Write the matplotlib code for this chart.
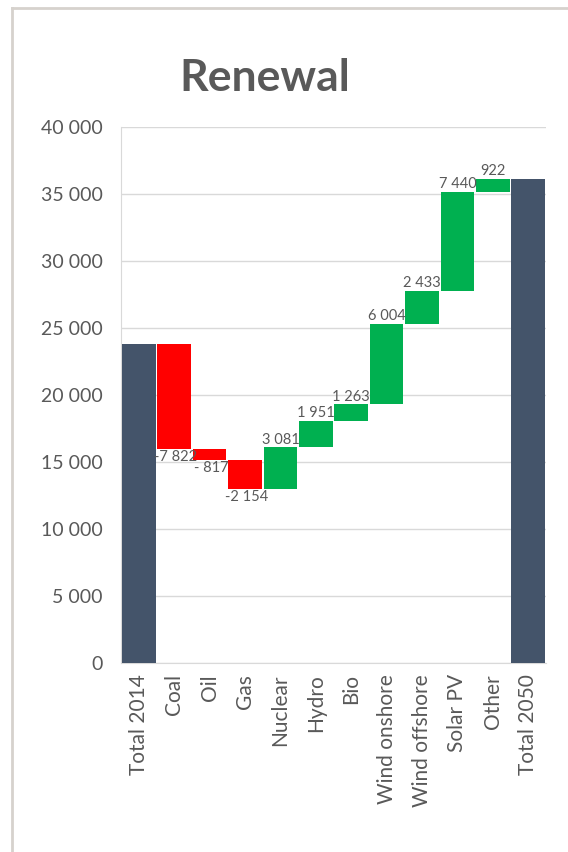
import matplotlib
matplotlib.use("Agg")
import matplotlib.pyplot as plt
from matplotlib.lines import Line2D

categories = ["Total 2014", "Coal", "Oil", "Gas", "Nuclear", "Hydro", "Bio",
              "Wind onshore", "Wind offshore", "Solar PV", "Other", "Total 2050"]
start_total = 23800
changes = [-7822, -817, -2154, 3081, 1951, 1263, 6004, 2433, 7440, 922]
y_ticks = [0, 5000, 10000, 15000, 20000, 25000, 30000, 35000, 40000]

TOTAL_C = "#44546a"
UP_C = "#00b050"
DOWN_C = "#ff0000"
TEXT_C = "#595959"
GRID_C = "#d9d9d9"

plt.rcParams["font.family"] = ["Lato", "DejaVu Sans"]


def fmt_space(v):
    a = abs(int(v))
    s = f"{a:,}".replace(",", " ")
    if a < 1000:
        s = " " + s
    return ("-" + s) if v < 0 else s.strip()


fig = plt.figure(figsize=(5.68, 8.52), dpi=100)
ax = fig.add_axes([121 / 568, 1 - 663 / 852, (546 - 121) / 568, (663 - 127) / 852])

end_total = start_total + sum(changes)
x = list(range(len(categories)))
w = 0.95

# totals
ax.bar(0, start_total, width=w, color=TOTAL_C, zorder=3)
ax.bar(len(categories) - 1, end_total, width=w, color=TOTAL_C, zorder=3)

# floating steps
level = start_total
for i, d in enumerate(changes, start=1):
    bottom = level + min(d, 0)
    ax.bar(i, abs(d), bottom=bottom, width=w,
           color=UP_C if d > 0 else DOWN_C, zorder=3)
    label = fmt_space(d)
    if d > 0:
        ax.text(i, level + d + 60, label, ha="center", va="bottom",
                fontsize=10.5, color=TEXT_C, zorder=4)
    else:
        ax.text(i + 0.05, level + d - 100, label, ha="center", va="top",
                fontsize=10.5, color=TEXT_C, zorder=4)
    level += d

ax.set_xlim(-0.5, len(categories) - 0.5)
ax.set_ylim(0, 40000)
ax.set_yticks(y_ticks)
ax.set_yticklabels([fmt_space(v) for v in y_ticks])
ax.set_xticks(x)
ax.set_xticklabels(categories, rotation=90)
ax.tick_params(axis="both", length=0, colors=TEXT_C)
ax.tick_params(axis="y", labelsize=14, pad=13)
ax.tick_params(axis="x", labelsize=15, pad=8)
ax.yaxis.grid(True, color=GRID_C, linewidth=1.0, zorder=0)
for side in ("top", "right"):
    ax.spines[side].set_visible(False)
ax.spines["left"].set_color(GRID_C)
ax.spines["bottom"].set_color(GRID_C)
ax.set_axisbelow(True)

fig.text(265 / 568, 1 - 78 / 852, "Renewal", ha="center", va="center",
         fontsize=32, fontweight="bold", color=TEXT_C)

# outer chart frame
frame_c = "#d6d2cd"
fig.add_artist(Line2D([11.5 / 568, 11.5 / 568], [0, 1 - 7.5 / 852],
                      transform=fig.transFigure, color=frame_c, linewidth=2))
fig.add_artist(Line2D([11.5 / 568, 1], [1 - 7.5 / 852, 1 - 7.5 / 852],
                      transform=fig.transFigure, color=frame_c, linewidth=2))

fig.savefig("out.png", dpi=100, facecolor="white")
